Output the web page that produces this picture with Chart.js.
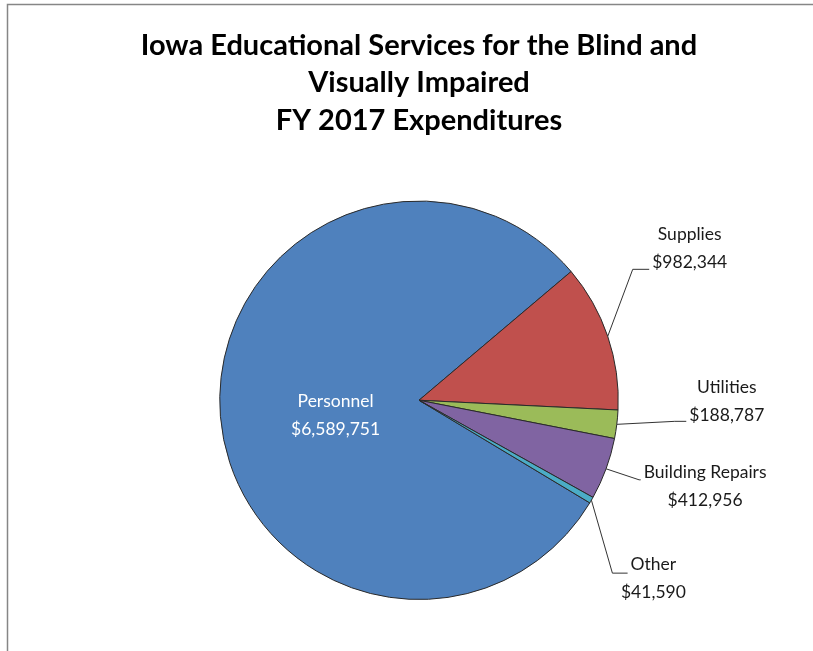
<!DOCTYPE html>
<html>
<head>
<meta charset="utf-8">
<script src="https://cdn.jsdelivr.net/npm/chart.js@4.4.1/dist/chart.umd.min.js"></script>
<style>
  html, body { margin: 0; padding: 0; background: #fff; }
  canvas { display: block; }
</style>
</head>
<body>
<canvas id="chart" width="813" height="651"></canvas>
<script>
// data
const titleLines = ["Iowa Educational Services for the Blind and", "Visually Impaired", "FY 2017 Expenditures"];
const categories = ["Personnel", "Supplies", "Utilities", "Building Repairs", "Other"];
const expenditures = [6589751, 982344, 188787, 412956, 41590];

const sliceColors = ["#4F81BD", "#C0504D", "#9BBB59", "#8064A2", "#4BACC6"];
const FONT = "Lato, 'Liberation Sans', sans-serif";

const money = (v) => "$" + v.toLocaleString("en-US");

// outer frame like the spreadsheet chart box
const framePlugin = {
  id: "frame",
  beforeDraw(chart) {
    const ctx = chart.ctx;
    ctx.save();
    ctx.fillStyle = "#fff";
    ctx.fillRect(0, 0, chart.width, chart.height);
    ctx.strokeStyle = "#868686";
    ctx.lineWidth = 1.5;
    ctx.strokeRect(7.5, 4.5, chart.width + 20, chart.height + 20);
    ctx.restore();
  }
};

// data labels with leader lines, anchored on each arc's mid angle
const labelPlugin = {
  id: "sliceLabels",
  afterDatasetsDraw(chart, args, opts) {
    const ctx = chart.ctx;
    const arcs = chart.getDatasetMeta(0).data;
    ctx.save();
    ctx.font = opts.font;
    ctx.textAlign = "center";
    ctx.textBaseline = "middle";
    arcs.forEach((arc, i) => {
      const p = arc.getProps(["x", "y", "startAngle", "endAngle", "outerRadius"], true);
      const mid = (p.startAngle + p.endAngle) / 2;
      const lines = [categories[i], money(expenditures[i])];
      const place = opts.place[i];
      const lh = opts.lineHeight;

      if (place.inside) {
        const cx = p.x + Math.cos(mid) * p.outerRadius * place.r;
        const cy = p.y + Math.sin(mid) * p.outerRadius * place.r + place.dy;
        ctx.fillStyle = "#fff";
        ctx.fillText(lines[0], cx, cy - lh / 2);
        ctx.fillText(lines[1], cx, cy + lh / 2);
        return;
      }

      const ax = p.x + Math.cos(mid) * p.outerRadius;
      const ay = p.y + Math.sin(mid) * p.outerRadius;
      const tx = ax + place.dx, ty = ay + place.dy;
      const ex = ax + place.ex, ey = ay + place.ey;
      const ys = [ty - lh / 2, ty + lh / 2];
      const k = Math.abs(ys[0] - ey) < Math.abs(ys[1] - ey) ? 0 : 1;
      const left = tx - ctx.measureText(lines[k]).width / 2 - 3;

      ctx.strokeStyle = "#333";
      ctx.lineWidth = 1;
      ctx.beginPath();
      ctx.moveTo(ax, ay);
      ctx.lineTo(ex, ey);
      ctx.lineTo(Math.max(left, ex), ey);
      ctx.stroke();

      ctx.fillStyle = "#1a1a1a";
      ctx.fillText(lines[0], tx, ys[0]);
      ctx.fillText(lines[1], tx, ys[1]);
    });
    ctx.restore();
  }
};

const ctx = document.getElementById("chart").getContext("2d");
new Chart(ctx, {
  type: "pie",
  data: {
    labels: categories,
    datasets: [{
      data: expenditures,
      backgroundColor: sliceColors,
      borderColor: "#2a2a2a",
      borderWidth: 1
    }]
  },
  options: {
    responsive: false,
    animation: false,
    rotation: 121,
    layout: { padding: { left: 25, right: 0, top: 0, bottom: 51 } },
    plugins: {
      legend: { display: false },
      tooltip: { enabled: false },
      title: {
        display: true,
        text: titleLines,
        color: "#000",
        font: { family: FONT, size: 29, weight: "bold", lineHeight: 1.293 },
        padding: { top: 26.5, bottom: 61.5 }
      },
      sliceLabels: {
        font: "17.5px " + FONT,
        lineHeight: 28,
        place: [
          { inside: true, r: 0.42, dy: 8 },
          { dx: 82, dy: -88, ex: 25, ey: -67 },
          { dx: 110, dy: -23, ex: 58, ey: -3 },
          { dx: 99, dy: 18, ex: 33, ey: 11 },
          { dx: 62, dy: 78, ex: 21, ey: 73 }
        ]
      }
    }
  },
  plugins: [framePlugin, labelPlugin]
});
</script>
</body>
</html>
